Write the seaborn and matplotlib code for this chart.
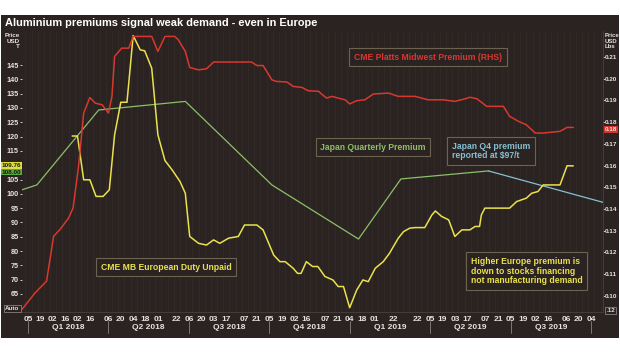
import numpy as np
import pandas as pd
import matplotlib
matplotlib.use('Agg')
import matplotlib.pyplot as plt
import matplotlib.transforms as mtransforms
from matplotlib.patches import Rectangle
import seaborn as sns

# CME Platts Midwest premium, USD/lb (right axis)
red_dates = ['2017-12-29', '2018-01-13', '2018-01-26', '2018-02-03', '2018-02-10', '2018-02-20',
             '2018-02-25', '2018-03-03', '2018-03-09', '2018-03-16', '2018-03-22', '2018-03-30',
             '2018-04-06', '2018-04-10', '2018-04-13', '2018-04-21', '2018-04-29', '2018-05-04',
             '2018-05-25', '2018-06-01', '2018-06-09', '2018-06-20', '2018-06-24', '2018-07-02',
             '2018-07-07', '2018-07-17', '2018-07-26', '2018-08-03', '2018-09-15', '2018-09-21',
             '2018-09-28', '2018-10-08', '2018-10-13', '2018-10-25', '2018-11-01', '2018-11-11',
             '2018-11-18', '2018-11-30', '2018-12-03', '2018-12-09', '2018-12-15', '2018-12-22',
             '2018-12-30', '2019-01-04', '2019-01-12', '2019-01-21', '2019-01-31', '2019-02-17',
             '2019-02-28', '2019-03-19', '2019-04-03', '2019-04-20', '2019-05-03', '2019-05-15',
             '2019-05-20', '2019-05-28', '2019-06-08', '2019-06-27', '2019-07-04', '2019-07-14',
             '2019-07-23', '2019-08-02', '2019-08-11', '2019-08-30', '2019-09-07', '2019-09-14']
red_vals = [0.0937, 0.1014, 0.1068, 0.1275, 0.1305, 0.1359,
            0.1405, 0.1589, 0.1842, 0.1914, 0.1888, 0.1880,
            0.1842, 0.1919, 0.2103, 0.2141, 0.2141, 0.2195,
            0.2195, 0.2126, 0.2195, 0.2195, 0.2180, 0.2126,
            0.2052, 0.2041, 0.2046, 0.2077, 0.2077, 0.2061,
            0.2061, 0.1995, 0.1988, 0.1985, 0.1965, 0.1960,
            0.1945, 0.1942, 0.1930, 0.1911, 0.1919, 0.1911,
            0.1903, 0.1884, 0.1899, 0.1903, 0.1930, 0.1934,
            0.1919, 0.1919, 0.1903, 0.1903, 0.1896, 0.1908,
            0.1915, 0.1908, 0.1873, 0.1873, 0.1827, 0.1804,
            0.1788, 0.1750, 0.1750, 0.1758, 0.1776, 0.1776]

# CME MB European duty unpaid, USD/t (left axis)
yel_dates = ['2018-02-24', '2018-03-02', '2018-03-09', '2018-03-16', '2018-03-23', '2018-03-31',
             '2018-04-07', '2018-04-13', '2018-04-20', '2018-04-27', '2018-05-04', '2018-05-12',
             '2018-05-17', '2018-05-25', '2018-06-01', '2018-06-09', '2018-06-17', '2018-06-26',
             '2018-07-02', '2018-07-07', '2018-07-17', '2018-07-26', '2018-08-03', '2018-08-10',
             '2018-08-20', '2018-08-31', '2018-09-07', '2018-09-21', '2018-09-28', '2018-10-10',
             '2018-10-17', '2018-10-23', '2018-11-01', '2018-11-06', '2018-11-10', '2018-11-16',
             '2018-11-23', '2018-11-29', '2018-12-07', '2018-12-16', '2018-12-22', '2018-12-28',
             '2019-01-04', '2019-01-12', '2019-01-19', '2019-01-25', '2019-02-02', '2019-02-11',
             '2019-02-18', '2019-02-28', '2019-03-06', '2019-03-13', '2019-03-19', '2019-03-30',
             '2019-04-07', '2019-04-11', '2019-04-18', '2019-04-26', '2019-05-03', '2019-05-11',
             '2019-05-20', '2019-05-26', '2019-05-31', '2019-06-02', '2019-06-06', '2019-07-04',
             '2019-07-12', '2019-07-23', '2019-07-29', '2019-08-05', '2019-08-11', '2019-08-30',
             '2019-09-07', '2019-09-14']
yel_vals = [120.2, 120.2, 104.9, 104.9, 99.1, 99.1,
            101.4, 120.6, 132.0, 132.0, 155.3, 150.3,
            150.0, 143.9, 120.6, 111.6, 108.4, 104.3,
            100.2, 85.1, 82.7, 82.1, 83.9, 82.7,
            84.5, 85.1, 89.1, 89.1, 87.4, 78.6,
            76.3, 76.3, 74.0, 72.2, 72.2, 76.3,
            74.6, 74.6, 71.1, 69.9, 67.6, 67.6,
            60.2, 66.4, 69.9, 69.3, 74.0, 76.3,
            79.2, 84.5, 86.8, 88.0, 88.2, 88.2,
            92.6, 94.0, 92.1, 90.9, 85.1, 87.4,
            87.4, 88.6, 88.6, 92.6, 95.0, 95.0,
            97.3, 98.5, 100.2, 100.8, 103.1, 103.1,
            109.8, 109.76]

# Japan quarterly premium, USD/t (left axis)
grn_dates = ['2017-12-29', '2018-01-15', '2018-03-26', '2018-07-02', '2018-10-08',
             '2019-01-14', '2019-03-03', '2019-06-10']
grn_vals = [101.4, 103.1, 129.3, 132.3, 103.1, 84.2, 105.2, 108.0]

# Japan Q4 reported premium
blu_dates = ['2019-06-10', '2019-10-18']
blu_vals = [108.0, 97.0]

left_ticks = [65, 70, 75, 80, 85, 90, 95, 100, 105, 115, 120, 125, 130, 135, 140, 145]
right_ticks = [0.10, 0.11, 0.12, 0.13, 0.14, 0.15, 0.16, 0.17, 0.18, 0.19, 0.20, 0.21]

tick_dates = ['2018-01-05', '2018-01-19', '2018-02-02', '2018-02-16', '2018-03-02', '2018-03-16',
              '2018-04-06', '2018-04-20', '2018-05-04', '2018-05-18', '2018-06-01', '2018-06-22',
              '2018-07-06', '2018-07-20', '2018-08-03', '2018-08-17', '2018-09-07', '2018-09-21',
              '2018-10-05', '2018-10-19', '2018-11-02', '2018-11-16', '2018-12-07', '2018-12-21',
              '2019-01-04', '2019-01-18', '2019-02-01', '2019-02-22', '2019-03-22',
              '2019-04-05', '2019-04-19', '2019-05-03', '2019-05-17', '2019-06-07', '2019-06-21',
              '2019-07-05', '2019-07-19', '2019-08-02', '2019-08-16', '2019-09-06', '2019-09-20',
              '2019-10-04']
quarter_names = ['Q1 2018', 'Q2 2018', 'Q3 2018', 'Q4 2018', 'Q1 2019', 'Q2 2019', 'Q3 2019']
quarter_starts = ['2018-01-05', '2018-04-06', '2018-07-06', '2018-10-05', '2019-01-04',
                  '2019-04-05', '2019-07-05', '2019-10-04']

BG = '#2a2321'
TXT = '#e6e2de'
EDGE = '#6b6350'
RED = '#d9382e'
YEL = '#e9e24c'
GRN = '#8cbf68'
BLU = '#86c0d2'

sns.set_style('dark')
plt.rcParams['font.family'] = ['Liberation Sans', 'DejaVu Sans']
plt.rcParams['font.weight'] = 'bold'

W, H = 620, 355
fig = plt.figure(figsize=(W / 100, H / 100), dpi=100)
fig.patch.set_facecolor('white')
panel = Rectangle((1 / W, 17 / H), 618 / W, 323 / H, transform=fig.transFigure,
                  facecolor=BG, edgecolor='none', zorder=-10)
fig.patches.append(panel)

L, R, T, B = 22, 603, 31, 312
ax = fig.add_axes([L / W, 1 - B / H, (R - L) / W, (B - T) / H])
ax.set_facecolor(BG)
ax2 = ax.twinx()

def frame(d, v):
    return pd.DataFrame({'date': pd.to_datetime(d), 'value': v})

red = frame(red_dates, red_vals)
yel = frame(yel_dates, yel_vals)
grn = frame(grn_dates, grn_vals)
blu = frame(blu_dates, blu_vals)

sns.lineplot(data=grn, x='date', y='value', ax=ax, color=GRN, linewidth=0.9)
sns.lineplot(data=blu, x='date', y='value', ax=ax, color=BLU, linewidth=0.9)
sns.lineplot(data=yel, x='date', y='value', ax=ax, color=YEL, linewidth=1.1)
sns.lineplot(data=red, x='date', y='value', ax=ax2, color=RED, linewidth=1.1)

x0, x1 = pd.Timestamp('2017-12-29 05:00'), pd.Timestamp('2019-10-17 16:00')
ax.set_xlim(x0, x1)
ax.set_ylim(58.7, 156.9)
ax2.set_ylim(0.0926, 0.2220)

# faint weekly stripes
for d in pd.date_range('2018-01-02', '2019-10-15', freq='7D'):
    ax.axvline(d, color='#322a27', lw=0.7, zorder=0)

ax.grid(False)
ax2.grid(False)
for a in (ax, ax2):
    for s in a.spines.values():
        s.set_visible(False)
ax.spines['bottom'].set_visible(True)
ax.spines['bottom'].set_color('#4a413c')
ax.spines['bottom'].set_linewidth(0.6)
ax2.spines['right'].set_visible(True)
ax2.spines['right'].set_color('#4a413c')
ax2.spines['right'].set_linewidth(0.6)

ax.set_xlabel('')
ax.set_ylabel('')
ax2.set_ylabel('')

ax.set_yticks(left_ticks)
ax.set_yticklabels([str(t) for t in left_ticks])
ax2.set_yticks(right_ticks)
ax2.set_yticklabels(['%.2f' % t for t in right_ticks])
ax.tick_params(axis='y', colors=TXT, labelsize=5.2, length=1.5, width=0.6, pad=0.8, direction='out')
ax2.tick_params(axis='y', colors=TXT, labelsize=4.6, length=1.2, width=0.6, pad=0.3, direction='out')

td = pd.to_datetime(tick_dates)
ax.set_xticks(td)
ax.set_xticklabels([d.strftime('%d') for d in td])
ax.tick_params(axis='x', colors=TXT, labelsize=6, length=0, pad=3)

# quarter labels and separators
blend = mtransforms.blended_transform_factory(ax.transData, ax.transAxes)
qs = pd.to_datetime(quarter_starts)
for i, name in enumerate(quarter_names):
    mid = qs[i] + (qs[i + 1] - qs[i]) / 2
    ax.text(mid, -0.055, name, transform=blend, ha='center', va='center', color=TXT, fontsize=6)
for q in qs:
    ax.plot([q, q], [-0.033, -0.075], transform=blend, color='#8a8480', lw=0.6, clip_on=False)

# last-value boxes
lblend = mtransforms.blended_transform_factory(ax.transAxes, ax.transData)
rblend = mtransforms.blended_transform_factory(ax2.transAxes, ax2.transData)
ax.text(-0.002, 109.9, '109.76', transform=lblend, ha='right', va='center', fontsize=4.6,
        color='#1a1a1a', zorder=6, bbox=dict(boxstyle='square,pad=0.12', fc='#dede40', ec='none'))
ax.text(-0.002, 107.6, '108.00', transform=lblend, ha='right', va='center', fontsize=4.6,
        color='#1a1a1a', zorder=5, bbox=dict(boxstyle='square,pad=0.12', fc='#5aa83e', ec='none'))
ax2.text(1.003, 0.1768, '0.18', transform=rblend, ha='left', va='center', fontsize=4.5,
         color='#f4e0dc', bbox=dict(boxstyle='square,pad=0.15', fc='#d2352c', ec='none'))
ax.text(-0.004, 60.0, 'Auto', transform=lblend, ha='right', va='center', fontsize=4.5, color=TXT,
        bbox=dict(boxstyle='square,pad=0.2', fc=BG, ec='#9a948f', lw=0.5))
ax2.text(1.006, 0.0932, '.12', transform=rblend, ha='left', va='center', fontsize=4.5, color=TXT,
         bbox=dict(boxstyle='square,pad=0.2', fc=BG, ec='#9a948f', lw=0.5))

fig.text(20 / W, 1 - 33 / H, 'Price\nUSD\nT', ha='right', va='top', color=TXT, fontsize=4.5, linespacing=1.15)
fig.text(605 / W, 1 - 33 / H, 'Price\nUSD\nLbs', ha='left', va='top', color=TXT, fontsize=4.3, linespacing=1.15)

fig.text(5 / W, 1 - 23 / H, 'Aluminium premiums signal weak demand - even in Europe',
         ha='left', va='center', color='white', fontsize=7.9, fontweight='bold')

def ax_xy(px, py):
    return (px - L) / (R - L), (B - py) / (B - T)

box = dict(boxstyle='square,pad=0.55', fc=BG, ec=EDGE, lw=0.8)
ax.text(*ax_xy(428, 57), 'CME Platts Midwest Premium (RHS)', transform=ax.transAxes, ha='center', va='center',
        color=RED, fontsize=6.2, bbox=box, zorder=6)
ax.text(*ax_xy(373, 147), 'Japan Quarterly Premium', transform=ax.transAxes, ha='center', va='center',
        color=GRN, fontsize=6.2, bbox=box, zorder=6)
ax.text(*ax_xy(452, 151), 'Japan Q4 premium\nreported at $97/t', transform=ax.transAxes, ha='left', va='center',
        color=BLU, fontsize=6.2, bbox=box, zorder=6, linespacing=1.1)
ax.text(*ax_xy(166, 267), 'CME MB European Duty Unpaid', transform=ax.transAxes, ha='center', va='center',
        color=YEL, fontsize=6.2, bbox=box, zorder=6)
ax.text(*ax_xy(471, 271), 'Higher Europe premium is\ndown to stocks financing\nnot manufacturing demand',
        transform=ax.transAxes, ha='left', va='center', color=YEL, fontsize=6.2, bbox=box, zorder=6,
        linespacing=1.1)

plt.savefig('out.png', dpi=100, facecolor='white')
plt.close()
